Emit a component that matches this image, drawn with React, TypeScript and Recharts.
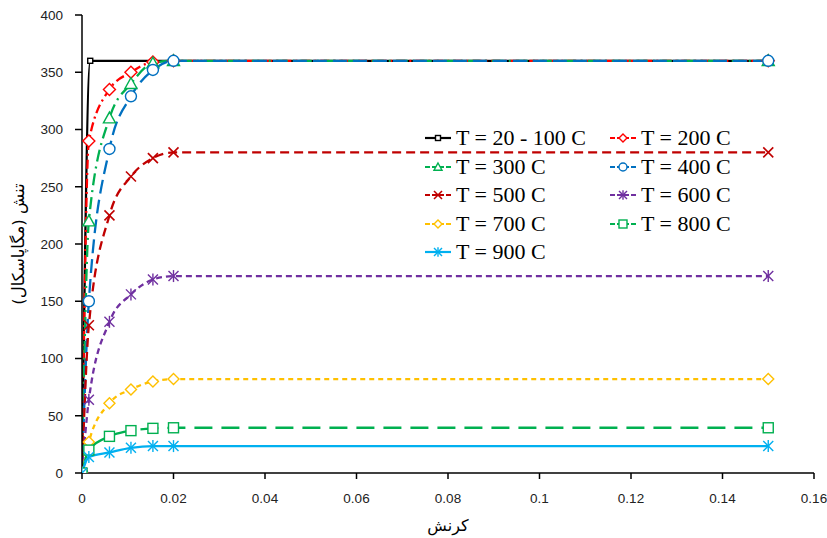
import React from 'react';
import { LineChart, Line, XAxis, YAxis, Label } from 'recharts';

// strain values (x) shared by most curves
const strain = [0, 0.0015, 0.006, 0.0107, 0.0155, 0.02, 0.15];
const strainElastic = [0, 0.0018, 0.15];

// stress (MPa) per temperature
const stress20 = [0, 360, 360];
const stress200 = [0, 290, 335, 350, 359, 360, 360];
const stress300 = [0, 220, 310, 340, 358, 360, 360];
const stress400 = [0, 150, 283, 329, 352, 360, 360];
const stress500 = [0, 129, 225, 259, 275, 280, 280];
const stress600 = [0, 64, 132, 156, 169, 172, 172];
const stress700 = [0, 27, 61, 73, 80, 82, 82];
const stress800 = [0, 20, 32, 37, 39, 39.5, 39.5];
const stress900 = [0, 14, 18, 22, 23.5, 23.5, 23.5];

const xTicks = [0, 0.02, 0.04, 0.06, 0.08, 0.1, 0.12, 0.14, 0.16];
const yTicks = [0, 50, 100, 150, 200, 250, 300, 350, 400];

const toPoints = (xs: number[], ys: number[]) => xs.map((x, i) => ({ x, y: ys[i] }));

type Shape = 'square' | 'diamond' | 'triangle' | 'circle' | 'x' | 'star';

const series = [
  { name: 'T = 20 - 100 C', data: toPoints(strainElastic, stress20), color: '#000000', dash: undefined, shape: 'square' as Shape, size: 2.5 },
  { name: 'T = 200 C', data: toPoints(strain, stress200), color: '#FF0000', dash: '9 4 2 4', shape: 'diamond' as Shape, size: 6 },
  { name: 'T = 300 C', data: toPoints(strain, stress300), color: '#00B050', dash: '12 5 2 5', shape: 'triangle' as Shape, size: 6 },
  { name: 'T = 400 C', data: toPoints(strain, stress400), color: '#0070C0', dash: '14 6', shape: 'circle' as Shape, size: 5.5 },
  { name: 'T = 500 C', data: toPoints(strain, stress500), color: '#C00000', dash: '9 5', shape: 'x' as Shape, size: 5 },
  { name: 'T = 600 C', data: toPoints(strain, stress600), color: '#7030A0', dash: '6 4', shape: 'star' as Shape, size: 5 },
  { name: 'T = 700 C', data: toPoints(strain, stress700), color: '#FFC000', dash: '5 4', shape: 'diamond' as Shape, size: 5.5 },
  { name: 'T = 800 C', data: toPoints(strain, stress800), color: '#00B050', dash: '18 9', shape: 'square' as Shape, size: 5 },
  { name: 'T = 900 C', data: toPoints(strain, stress900), color: '#00B0F0', dash: undefined, shape: 'star' as Shape, size: 5 },
];

const Marker = ({ shape, cx, cy, color, s }: { shape: Shape; cx: number; cy: number; color: string; s: number }) => {
  const sw = 1.4;
  switch (shape) {
    case 'square':
      return <rect x={cx - s} y={cy - s} width={2 * s} height={2 * s} fill="#fff" stroke={color} strokeWidth={sw} />;
    case 'diamond':
      return <polygon points={`${cx},${cy - s} ${cx + s},${cy} ${cx},${cy + s} ${cx - s},${cy}`} fill="#fff" stroke={color} strokeWidth={sw} />;
    case 'triangle':
      return <polygon points={`${cx},${cy - s} ${cx + s},${cy + s * 0.8} ${cx - s},${cy + s * 0.8}`} fill="#fff" stroke={color} strokeWidth={sw} />;
    case 'circle':
      return <circle cx={cx} cy={cy} r={s} fill="#fff" stroke={color} strokeWidth={sw} />;
    case 'x':
      return (
        <g stroke={color} strokeWidth={1.6}>
          <line x1={cx - s} y1={cy - s} x2={cx + s} y2={cy + s} />
          <line x1={cx - s} y1={cy + s} x2={cx + s} y2={cy - s} />
        </g>
      );
    case 'star':
    default:
      return (
        <g stroke={color} strokeWidth={1.4}>
          <line x1={cx - s} y1={cy - s} x2={cx + s} y2={cy + s} />
          <line x1={cx - s} y1={cy + s} x2={cx + s} y2={cy - s} />
          <line x1={cx} y1={cy - s * 1.2} x2={cx} y2={cy + s * 1.2} />
        </g>
      );
  }
};

const ChartLegend = () => (
  <div
    style={{
      position: 'absolute',
      left: 425,
      top: 124,
      display: 'grid',
      gridTemplateColumns: '185px 185px',
      fontFamily: '"Liberation Serif", "Times New Roman", serif',
      fontSize: 22,
      color: '#000',
      pointerEvents: 'none',
    }}
  >
    {series.map((s) => (
      <div key={s.name} style={{ display: 'flex', alignItems: 'center', height: 28.5 }}>
        <svg width={30} height={16} style={{ marginRight: 1 }}>
          <line x1={0} y1={8} x2={26} y2={8} stroke={s.color} strokeWidth={2.2} strokeDasharray={s.dash ? '5 2' : undefined} />
          <Marker shape={s.shape} cx={13} cy={8} color={s.color} s={s.shape === 'square' && s.size < 3 ? 2.5 : 4} />
        </svg>
        <span style={{ whiteSpace: 'nowrap' }}>{s.name}</span>
      </div>
    ))}
  </div>
);

const tickStyle = { fontFamily: '"Liberation Sans", Arial, sans-serif', fontSize: 13.5, fill: '#222' };

export default function App() {
  return (
    <div style={{ position: 'absolute', left: 0, top: 0, width: 827, height: 538, background: '#fff' }}>
      <LineChart width={827} height={538} margin={{ top: 15, right: 13, left: 32, bottom: 25 }}>
        <XAxis
          type="number"
          dataKey="x"
          domain={[0, 0.16]}
          ticks={xTicks}
          tickFormatter={(v: number) => String(+v.toFixed(2))}
          tick={tickStyle}
          tickSize={6}
          tickMargin={14}
          axisLine={{ stroke: '#000', strokeWidth: 1.5 }}
          tickLine={{ stroke: '#000', strokeWidth: 1.5 }}
          height={40}
          allowDataOverflow
        >
          <Label
            value="کرنش"
            position="insideBottom"
            offset={-18}
            style={{ fontFamily: '"DejaVu Sans", sans-serif', fontSize: 16, fill: '#000' }}
          />
        </XAxis>
        <YAxis
          type="number"
          domain={[0, 400]}
          ticks={yTicks}
          tick={tickStyle}
          tickSize={7}
          tickMargin={12}
          axisLine={{ stroke: '#000', strokeWidth: 1.5 }}
          tickLine={{ stroke: '#000', strokeWidth: 1.5 }}
          width={50}
          allowDataOverflow
        >
          <Label
            value="تنش (مگاپاسکال)"
            angle={-90}
            position="insideLeft"
            offset={-14}
            style={{ fontFamily: '"DejaVu Sans", sans-serif', fontSize: 16.5, fill: '#000', textAnchor: 'middle' }}
          />
        </YAxis>
        {series.map((s) => (
          <Line
            key={s.name}
            data={s.data}
            dataKey="y"
            name={s.name}
            type="monotone"
            stroke={s.color}
            strokeWidth={2.3}
            strokeDasharray={s.dash}
            isAnimationActive={false}
            dot={(p: any) => (
              <Marker key={`${s.name}-${p.index}`} shape={s.shape} cx={p.cx} cy={p.cy} color={s.color} s={s.size} />
            )}
            activeDot={false}
          />
        ))}
      </LineChart>
      <ChartLegend />
    </div>
  );
}
